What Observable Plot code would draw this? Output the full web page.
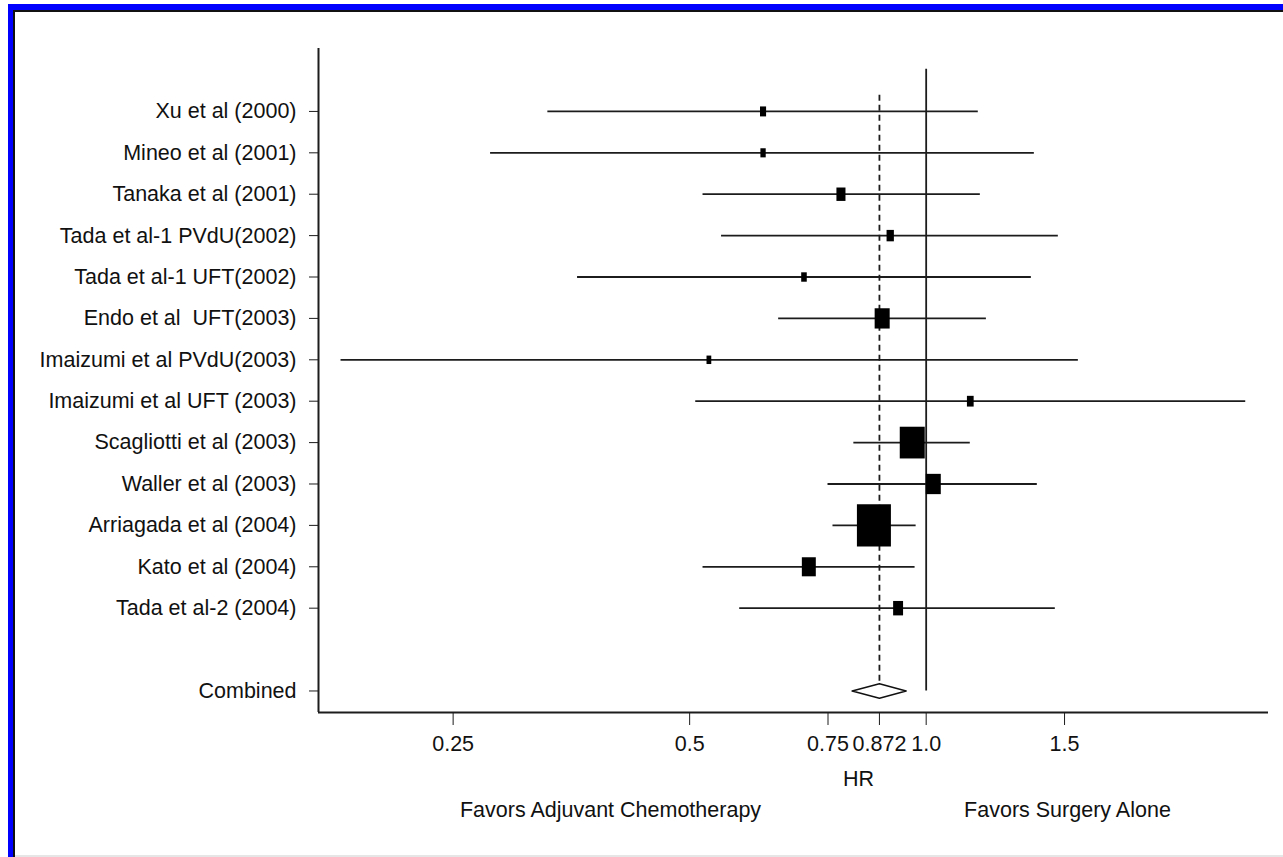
<!DOCTYPE html>
<html>
<head>
<meta charset="utf-8">
<script src="https://cdn.jsdelivr.net/npm/d3@7"></script>
<script src="https://cdn.jsdelivr.net/npm/@observablehq/plot@0.6"></script>
<style>
html, body { margin: 0; padding: 0; background: #fff; }
#wrap { position: relative; width: 1283px; height: 857px; overflow: hidden; }
.bd { position: absolute; }
#chart { position: absolute; left: 0; top: 0; }
</style>
</head>
<body>
<div id="wrap">
  <div id="chart"></div>
  <div class="bd" style="left:8px;top:4px;width:1275px;height:6px;background:#0000ff"></div>
  <div class="bd" style="left:8px;top:4px;width:5px;height:853px;background:#0000ff"></div>
  <div class="bd" style="left:13px;top:10px;width:1270px;height:2px;background:#111"></div>
  <div class="bd" style="left:13px;top:10px;width:2px;height:847px;background:#111"></div>
  <div class="bd" style="left:15px;top:855px;width:1268px;height:2px;background:#e6e6e6"></div>
</div>
<script>
// ---- data ----
const studies = [
  "Xu et al (2000)",
  "Mineo et al (2001)",
  "Tanaka et al (2001)",
  "Tada et al-1 PVdU(2002)",
  "Tada et al-1 UFT(2002)",
  "Endo et al  UFT(2003)",
  "Imaizumi et al PVdU(2003)",
  "Imaizumi et al UFT (2003)",
  "Scagliotti et al (2003)",
  "Waller et al (2003)",
  "Arriagada et al (2004)",
  "Kato et al (2004)",
  "Tada et al-2 (2004)"
];
const hrValues = [0.620, 0.620, 0.779, 0.900, 0.699, 0.879, 0.529, 1.138, 0.960, 1.021, 0.858, 0.709, 0.921];
const lowerCI  = [0.330, 0.279, 0.520, 0.549, 0.360, 0.649, 0.180, 0.509, 0.809, 0.750, 0.761, 0.520, 0.579];
const upperCI  = [1.165, 1.373, 1.172, 1.473, 1.361, 1.193, 1.562, 2.551, 1.138, 1.385, 0.971, 0.968, 1.460];
const weights  = [1.3, 1.0, 2.9, 1.9, 1.1, 8.0, 0.8, 1.6, 22.1, 8.0, 40.9, 6.9, 3.5];

const combinedLabel = "Combined";
const combinedHR = 0.872;
const combinedLower = 0.805;
const combinedUpper = 0.943;

const xTicks = [0.25, 0.5, 0.75, 0.872, 1.0, 1.5];
const xTickLabels = ["0.25", "0.5", "0.75", "0.872", "1.0", "1.5"];
const axisTitle = "HR";
const favorsLeft = "Favors Adjuvant Chemotherapy";
const favorsRight = "Favors Surgery Alone";

// ---- build ----
const rows = studies.map((s, i) => ({study: s, row: i, hr: hrValues[i], lo: lowerCI[i], hi: upperCI[i], w: weights[i]}));
const combinedRow = studies.length + 1;
const rowTicks = [...rows.map(d => d.row), combinedRow];
const rowLabels = new Map([...rows.map(d => [d.row, d.study]), [combinedRow, combinedLabel]]);

const xDomain = [0.1685, 2.727];
const yDomain = [combinedRow + 0.52, -1.52];
const dh = 0.174;

const diamond = [
  {x: combinedLower, y: combinedRow},
  {x: combinedHR, y: combinedRow - dh},
  {x: combinedUpper, y: combinedRow},
  {x: combinedHR, y: combinedRow + dh},
  {x: combinedLower, y: combinedRow}
];

const refLines = [
  {x: 1, y1: -1.02, y2: combinedRow, dash: null},
  {x: combinedHR, y1: -0.39, y2: combinedRow - dh, dash: "6,4"}
];

const boxSymbol = {
  draw(ctx, size) {
    const r = Math.sqrt(size / Math.PI);
    const w = 2 * r, h = 1.15 * w + 3;
    ctx.moveTo(-w / 2, -h / 2);
    ctx.lineTo(w / 2, -h / 2);
    ctx.lineTo(w / 2, h / 2);
    ctx.lineTo(-w / 2, h / 2);
    ctx.closePath();
  }
};

const ink = "#1c1c1c";

const chart = Plot.plot({
  width: 1283,
  height: 857,
  marginLeft: 318,
  marginRight: 15,
  marginTop: 48,
  marginBottom: 145,
  style: {fontFamily: "'Liberation Sans', Arial, Helvetica, sans-serif", fontSize: "21.5px", color: "#111", background: "transparent"},
  x: {type: "log", domain: xDomain},
  y: {domain: yDomain},
  r: {type: "sqrt", domain: [0, 40.9], range: [0, 17]},
  marks: [
    Plot.ruleY([yDomain[0]], {stroke: ink, strokeWidth: 2}),
    Plot.ruleX([xDomain[0]], {stroke: ink, strokeWidth: 2}),
    Plot.ruleX(refLines.filter(d => !d.dash), {x: "x", y1: "y1", y2: "y2", stroke: ink, strokeWidth: 1.8}),
    Plot.ruleX(refLines.filter(d => d.dash), {x: "x", y1: "y1", y2: "y2", stroke: ink, strokeWidth: 1.8, strokeDasharray: "6,4"}),
    Plot.ruleY(rows, {y: "row", x1: "lo", x2: "hi", stroke: ink, strokeWidth: 1.8}),
    Plot.dot(rows, {x: "hr", y: "row", r: "w", symbol: boxSymbol, fill: "#000", stroke: "none"}),
    Plot.line(diamond, {x: "x", y: "y", stroke: "#111", strokeWidth: 1.5, fill: "white"}),
    Plot.axisY({ticks: rowTicks, tickFormat: d => rowLabels.get(d), tickSize: 9, tickPadding: 13, tickStrokeWidth: 2, stroke: ink, label: null, fontSize: 21.5}),
    Plot.axisX({ticks: xTicks, tickFormat: d => xTickLabels[xTicks.indexOf(d)], tickSize: 13, tickPadding: 10, stroke: ink, label: null, fontSize: 21.5}),
    Plot.text([axisTitle], {x: () => 0.820, text: d => d, frameAnchor: "bottom", dy: 73, fontSize: 21.5, fill: "#111"}),
    Plot.text([{t: favorsLeft, x: 0.3965}, {t: favorsRight, x: 1.513}], {x: "x", text: "t", frameAnchor: "bottom", dy: 104, fontSize: 21.5, fill: "#111"})
  ]
});
document.getElementById("chart").appendChild(chart);
</script>
</body>
</html>
